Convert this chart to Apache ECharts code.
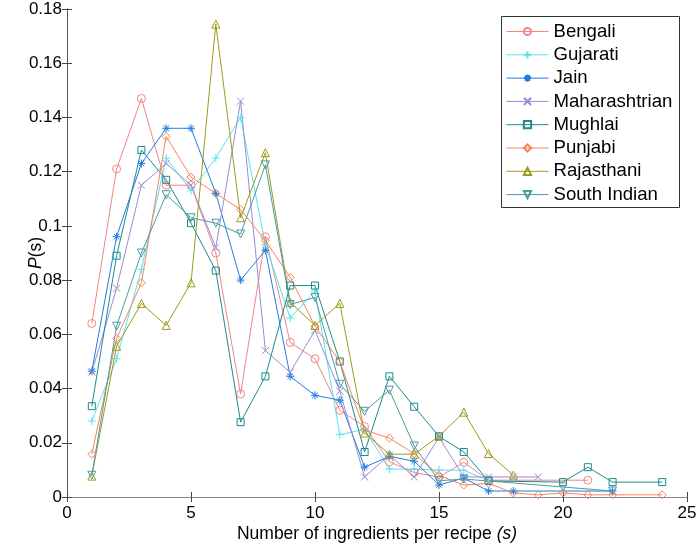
<!DOCTYPE html>
<html>
<head>
<meta charset="utf-8">
<script src="https://cdn.jsdelivr.net/npm/echarts@6/dist/echarts.min.js"></script>
<style>html,body{margin:0;padding:0;background:#fff}#c{width:700px;height:548px}</style>
</head>
<body>
<div id="c"></div>
<script>
var sizes = [1,2,3,4,5,6,7,8,9,10,11,12,13,14,15,16,17,18,19,20,21,22,23,24];
var seriesNames = ['Bengali','Gujarati','Jain','Maharashtrian','Mughlai','Punjabi','Rajasthani','South Indian'];
var bengali = [0.064,0.121,0.147,0.115,0.115,0.090,0.038,0.096,0.057,0.051,0.032,0.026,0.013,0.009,0.0074,0.0128,0.0062,null,null,null,0.0062,null,null,null];
var gujarati = [0.028,0.051,0.084,0.125,0.113,0.125,0.140,0.093,0.066,0.076,0.023,0.025,0.0103,0.0103,0.0099,0.0099,0.006,null,null,null,null,null,null,null];
var jain = [0.0464,0.096,0.123,0.136,0.136,0.112,0.080,0.091,0.0445,0.0375,0.0357,0.011,0.015,0.0132,0.0044,0.0070,0.0022,0.0022,null,null,null,0.0022,null,null];
var maharashtrian = [0.046,0.077,0.115,0.123,0.115,0.092,0.146,0.054,0.046,0.0615,0.039,0.0074,0.0155,0.0074,0.022,0.0074,0.0074,0.0074,0.0074,null,null,null,null,null];
var mughlai = [0.0335,0.089,0.128,0.117,0.101,0.0835,0.0276,0.0445,0.078,0.078,0.050,0.0166,0.0445,0.0333,0.0224,0.0166,0.0059,null,null,0.0055,0.011,0.0055,null,0.0055];
var punjabi = [0.0158,0.0585,0.079,0.133,0.118,0.112,0.106,0.0946,0.081,0.063,0.050,0.0247,0.0217,0.016,0.008,0.0044,0.005,0.0015,0.0008,0.0015,0.0008,0.0008,null,0.0008];
var rajasthani = [0.0077,0.0556,0.0714,0.0633,0.079,0.1744,0.103,0.127,0.0718,0.0633,0.0714,0.0236,0.0158,0.0158,0.0224,0.0313,0.016,0.0081,null,null,null,null,null,null];
var southIndian = [0.008,0.063,0.090,0.1115,0.103,0.101,0.097,0.1225,0.071,0.0736,0.0416,0.0316,0.0394,0.0188,0.006,0.0066,0.0059,null,null,0.0037,null,0.0022,null,null];
var yTickLabels = ['0','0.02','0.04','0.06','0.08','0.1','0.12','0.14','0.16','0.18'];
var xTickLabels = ['0','5','10','15','20','25'];

var allValues = [bengali,gujarati,jain,maharashtrian,mughlai,punjabi,rajasthani,southIndian];
var colors = ['#f28585','#55e4f0','#1f7de0','#9a8cd2','#1b8b8b','#f5845a','#9c9c1c','#4d9aa5'];
var symbols = [
  'path://M1,0A1,1 0 1 1 -1,0A1,1 0 1 1 1,0Z',
  'path://M0,-1L0,1M-1,0L1,0',
  'path://M0,-1L0,1M-1,0L1,0M-0.7,-0.7L0.7,0.7M-0.7,0.7L0.7,-0.7',
  'path://M-1,-1L1,1M-1,1L1,-1',
  'path://M-1,-1L1,-1L1,1L-1,1Z',
  'path://M0,-1L1,0L0,1L-1,0Z',
  'path://M0,-1L1,1L-1,1Z',
  'path://M-1,-1L1,-1L0,1Z'
];
var symSizes = [8,8,8,7,7,8,8,8];

var series = seriesNames.map(function(name,k){
  var data = sizes.map(function(s,i){return [s, allValues[k][i]];}).filter(function(d){return d[1]!==null;});
  return {
    name: name, type: 'line', data: data,
    symbol: symbols[k], symbolSize: symSizes[k], showAllSymbol: true,
    lineStyle: {color: colors[k], width: 1},
    itemStyle: {color: 'transparent', borderColor: colors[k], borderWidth: 1},
    emphasis: {disabled: true},
    animation: false
  };
});

var chart = echarts.init(document.getElementById('c'), null, {renderer: 'canvas'});
var font = "'Liberation Sans', Arial, sans-serif";
var tickStyle = {show: true, inside: true, length: 5, lineStyle: {color: '#444', width: 1}};
chart.setOption({
  animation: false,
  backgroundColor: '#fff',
  textStyle: {fontFamily: font},
  grid: {left: 67, top: 9, right: 13, bottom: 51, containLabel: false, outerBoundsMode: 'none'},
  graphic: [{
    type: 'rect', left: 501, top: 16, z: 100,
    shape: {width: 178, height: 191},
    style: {fill: 'transparent', stroke: '#333', lineWidth: 1}
  }],
  legend: {
    orient: 'vertical', left: 499, top: 16,
    padding: [6, 6, 5, 7],
    borderWidth: 0, backgroundColor: '#fff',
    itemWidth: 42, itemHeight: 9, itemGap: 4.3,
    lineStyle: {width: 1},
    textStyle: {fontSize: 18.6, color: '#000', fontFamily: font, lineHeight: 19},
    data: seriesNames
  },
  xAxis: [{
    type: 'value', min: 0, max: 25, interval: 5, position: 'bottom',
    name: 'Number of ingredients per recipe {i|(s)}', nameLocation: 'middle', nameGap: 28, nameMoveOverlap: false,
    nameTextStyle: {fontSize: 17.5, color: '#000', fontFamily: font, rich: {i: {fontStyle: 'italic', fontSize: 17.5, fontFamily: font}}},
    axisLine: {show: true, lineStyle: {color: '#8a8a8a', width: 1}},
    axisTick: tickStyle,
    axisLabel: {fontSize: 17, color: '#000', margin: 8, formatter: function(v){return xTickLabels[Math.round(v/5)];}},
    splitLine: {show: false}
  },{
    type: 'value', min: 0, max: 25, interval: 5, position: 'top',
    axisLine: {show: true, lineStyle: {color: '#8a8a8a', width: 1}},
    axisTick: tickStyle, axisLabel: {show: false}, splitLine: {show: false}
  }],
  yAxis: [{
    type: 'value', min: 0, max: 0.18, interval: 0.02, position: 'left',
    name: '{i|P}(s)', nameLocation: 'middle', nameGap: 22, nameRotate: 90, nameMoveOverlap: false,
    nameTextStyle: {fontSize: 17.5, color: '#000', fontFamily: font, rich: {i: {fontStyle: 'italic', fontSize: 17.5, fontFamily: font}}},
    axisLine: {show: true, lineStyle: {color: '#555', width: 1}},
    axisTick: tickStyle,
    axisLabel: {fontSize: 17, color: '#000', margin: 5, formatter: function(v){return yTickLabels[Math.round(v/0.02)];}},
    splitLine: {show: false}
  },{
    type: 'value', min: 0, max: 0.18, interval: 0.02, position: 'right',
    axisLine: {show: true, lineStyle: {color: '#555', width: 1}},
    axisTick: tickStyle, axisLabel: {show: false}, splitLine: {show: false}
  }],
  series: series
});
</script>
</body>
</html>
